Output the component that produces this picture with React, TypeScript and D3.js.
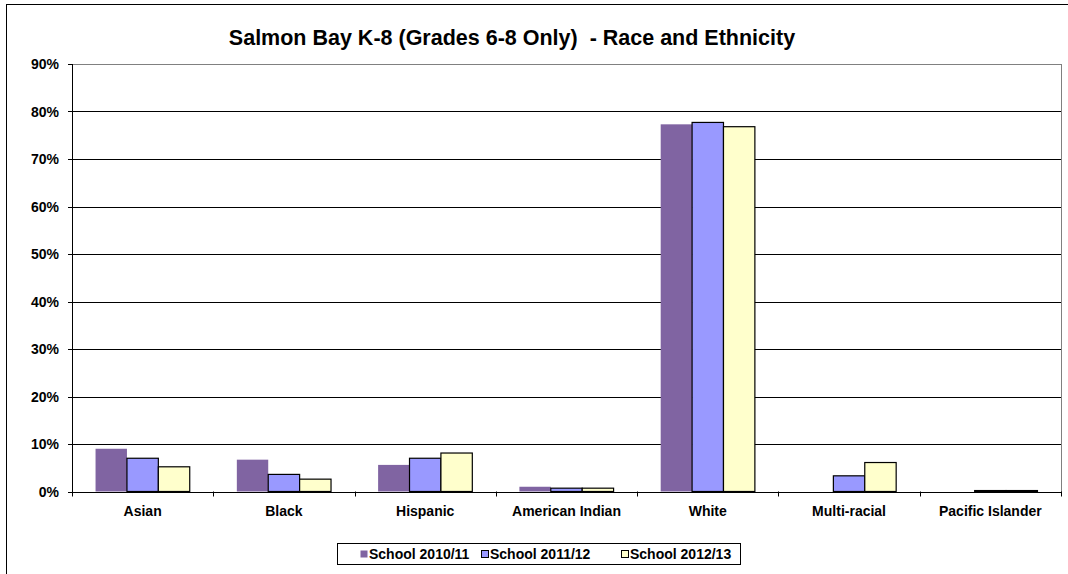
import React from "react";
import * as d3 from "d3";

const categories = ["Asian", "Black", "Hispanic", "American Indian", "White", "Multi-racial", "Pacific Islander"];
const seriesNames = ["School 2010/11", "School 2011/12", "School 2012/13"];
const school201011 = [0.09, 0.067, 0.056, 0.01, 0.773, 0, 0];
const school201112 = [0.07, 0.036, 0.07, 0.007, 0.777, 0.033, 0.002];
const school201213 = [0.052, 0.026, 0.081, 0.007, 0.768, 0.061, 0.002];
const yTicks = [0, 0.1, 0.2, 0.3, 0.4, 0.5, 0.6, 0.7, 0.8, 0.9];
const colors = ["#8064A2", "#9999FF", "#FFFFCC"];
const title = "Salmon Bay K-8 (Grades 6-8 Only)  - Race and Ethnicity";

export default function App() {
  const W = 1068, H = 574;
  const left = 72, right = 1061, top = 64, bottom = 491.5;
  const data = [school201011, school201112, school201213];
  const x = d3.scaleBand<string>().domain(categories).range([left, right]).padding(0);
  const bw = x.bandwidth();
  const xs = d3.scaleBand<string>().domain(seriesNames).range([bw * (0.75 / 4.5), bw * (3.75 / 4.5)]).padding(0);
  const y = d3.scaleLinear().domain([0, 0.9]).range([bottom, top]);
  const font = "'Liberation Sans', Arial, sans-serif";
  const r = (v: number) => Math.round(v) + 0.5;
  const legendX = [360, 481, 621];

  return (
    <svg width={W} height={H} style={{ position: "absolute", left: 0, top: 0, background: "#fff" }} fontFamily={font}>
      <rect x={0} y={0} width={W} height={H} fill="#fff" />
      <rect x={6.5} y={4.5} width={1080} height={600} fill="none" stroke="#000" />
      <text x={512} y={45} textAnchor="middle" fontWeight="bold" fontSize={21.5}>{title.replace(/ /g, "\u00a0")}</text>
      {/* plot border */}
      <rect x={left + 0.5} y={r(top)} width={right - left} height={r(bottom) - r(top)} fill="none" stroke="#808080" />
      {/* gridlines */}
      {yTicks.filter(t => t > 0 && t < 0.9).map(t => (
        <line key={t} x1={left} x2={right} y1={r(y(t))} y2={r(y(t))} stroke="#000" />
      ))}
      {/* bars */}
      {data.map((vals, si) => vals.map((v, ci) => v > 0 ? (
        <rect key={`${si}-${ci}`} x={x(categories[ci])! + xs(seriesNames[si])!} y={y(v)}
          width={xs.bandwidth()} height={bottom - y(v)} fill={colors[si]}
          stroke={si === 0 ? "none" : "#000"} strokeWidth={si === 0 ? 0 : 1.2} />
      ) : null))}
      {/* axes */}
      <line x1={left + 0.5} x2={left + 0.5} y1={top} y2={bottom + 5} stroke="#000" />
      <line x1={left - 4} x2={right + 0.5} y1={r(bottom)} y2={r(bottom)} stroke="#000" />
      {yTicks.map(t => (
        <g key={t}>
          <line x1={left - 4} x2={left} y1={r(y(t))} y2={r(y(t))} stroke="#000" />
          <text x={59} y={y(t) + 5} textAnchor="end" fontWeight="bold" fontSize={14}>{d3.format(".0%")(t)}</text>
        </g>
      ))}
      {categories.map((c) => (
        <g key={c}>
          <line x1={r(x(c)! + bw)} x2={r(x(c)! + bw)} y1={bottom} y2={bottom + 5} stroke="#000" />
          <text x={x(c)! + bw / 2} y={516} textAnchor="middle" fontWeight="bold" fontSize={14}>{c}</text>
        </g>
      ))}
      {/* legend */}
      <rect x={337.5} y={543.5} width={403} height={21} fill="#fff" stroke="#000" />
      {seriesNames.map((s, i) => {
        const mx = legendX[i];
        return (
          <g key={s}>
            <rect x={mx + 0.5} y={550.5} width={7} height={7} fill={colors[i]} stroke={i === 0 ? "none" : "#000"} />
            <text x={mx + 9} y={559} fontWeight="bold" fontSize={14}>{s}</text>
          </g>
        );
      })}
    </svg>
  );
}
